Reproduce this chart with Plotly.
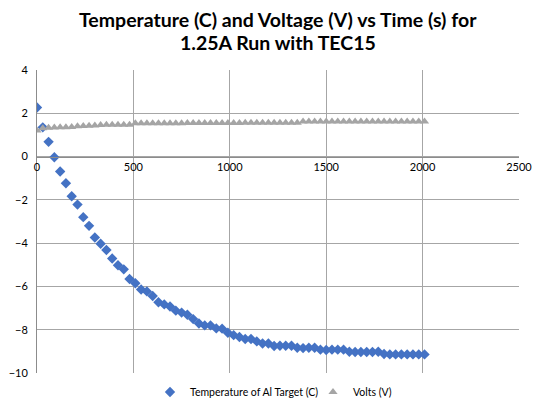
import plotly.graph_objects as go

time_s = [0, 30, 60, 90, 120, 150, 180, 210, 240, 270,
          300, 330, 360, 390, 420, 450, 480, 510, 540, 570,
          600, 630, 660, 690, 720, 750, 780, 810, 840, 870,
          900, 930, 960, 990, 1020, 1050, 1080, 1110, 1140, 1170,
          1200, 1230, 1260, 1290, 1320, 1350, 1380, 1410, 1440, 1470,
          1500, 1530, 1560, 1590, 1620, 1650, 1680, 1710, 1740, 1770,
          1800, 1830, 1860, 1890, 1920, 1950, 1980, 2010]

temp_c = [2.27, 1.35, 0.68, -0.03, -0.69, -1.23, -1.83, -2.22, -2.80, -3.20,
          -3.74, -4.03, -4.32, -4.71, -5.02, -5.21, -5.66, -5.85, -6.14, -6.23,
          -6.44, -6.73, -6.83, -6.93, -7.12, -7.21, -7.31, -7.51, -7.71, -7.80,
          -7.80, -7.94, -7.95, -8.14, -8.25, -8.34, -8.43, -8.43, -8.54, -8.64,
          -8.64, -8.75, -8.74, -8.74, -8.74, -8.83, -8.85, -8.83, -8.83, -8.92,
          -8.94, -8.92, -8.92, -8.92, -9.02, -9.03, -9.03, -9.03, -9.03, -9.02,
          -9.12, -9.14, -9.14, -9.14, -9.14, -9.14, -9.14, -9.14]

volts_v = [1.20, 1.31, 1.33, 1.34, 1.35, 1.36, 1.37, 1.40, 1.41, 1.42,
           1.43, 1.46, 1.47, 1.47, 1.47, 1.47, 1.47, 1.54, 1.54, 1.54,
           1.54, 1.54, 1.54, 1.54, 1.54, 1.54, 1.55, 1.55, 1.55, 1.55,
           1.55, 1.55, 1.55, 1.55, 1.55, 1.55, 1.56, 1.56, 1.56, 1.56,
           1.56, 1.56, 1.56, 1.56, 1.56, 1.56, 1.62, 1.62, 1.62, 1.62,
           1.62, 1.62, 1.62, 1.62, 1.62, 1.62, 1.62, 1.62, 1.62, 1.62,
           1.62, 1.62, 1.62, 1.62, 1.62, 1.62, 1.62, 1.62]

x_ticks = [0, 500, 1000, 1500, 2000, 2500]
y_ticks = [-10, -8, -6, -4, -2, 0, 2, 4]
title_lines = ["Temperature (C) and Voltage (V) vs Time (s) for", "1.25A Run with TEC15"]

font_family = "Lato, 'Open Sans', sans-serif"
grid_col = "#a6a6a6"
H = 405
PLOT_L, PLOT_R = 37, 519
PLOT_TOP, PLOT_BOT = 70, 373

fig = go.Figure()
fig.add_trace(go.Scatter(
    x=time_s, y=temp_c, mode="markers", name="Temperature of Al Target (C)",
    marker=dict(symbol="diamond", size=8, color="#4472C4"),
))
fig.add_trace(go.Scatter(
    x=time_s, y=volts_v, mode="markers", name="Volts (V)",
    marker=dict(symbol="triangle-up", size=8, color="#A5A5A5"),
))

for txt, ypix in zip(title_lines, [19, 43]):
    fig.add_annotation(
        text=txt, xref="paper", yref="paper", x=0.5,
        y=(PLOT_BOT - ypix) / (PLOT_BOT - PLOT_TOP),
        xanchor="center", yanchor="middle", showarrow=False,
        font=dict(family=font_family, size=19.5, color="#000000", weight="bold"),
    )

fig.update_layout(
    width=534, height=H,
    margin=dict(l=PLOT_L, r=534 - PLOT_R, t=PLOT_TOP, b=H - PLOT_BOT, autoexpand=False),
    paper_bgcolor="white", plot_bgcolor="white",
    font=dict(family=font_family, size=11, color="#000000"),
    showlegend=True,
    legend=dict(orientation="h", x=(150 - PLOT_L) / (PLOT_R - PLOT_L), xanchor="left",
                yref="container", y=1 - 392 / H, yanchor="middle",
                font=dict(size=10.5), itemwidth=30, tracegroupgap=0,
                entrywidth=118, entrywidthmode="pixels"),
    xaxis=dict(
        range=[0, 2500], tickvals=x_ticks, showgrid=True, gridcolor=grid_col, gridwidth=1,
        zeroline=False, showline=True, linecolor="#8c8c8c", linewidth=1,
        anchor="free", position=10 / 14, ticks="", tickfont=dict(size=11),
    ),
    yaxis=dict(
        range=[-10, 4], tickvals=y_ticks, showgrid=True, gridcolor=grid_col, gridwidth=1,
        zeroline=False, showline=True, linecolor="#8c8c8c", linewidth=1,
        ticks="", tickfont=dict(size=11), domain=[0, 1], ticklabelstandoff=6,
    ),
)

fig.write_html("out.html")
